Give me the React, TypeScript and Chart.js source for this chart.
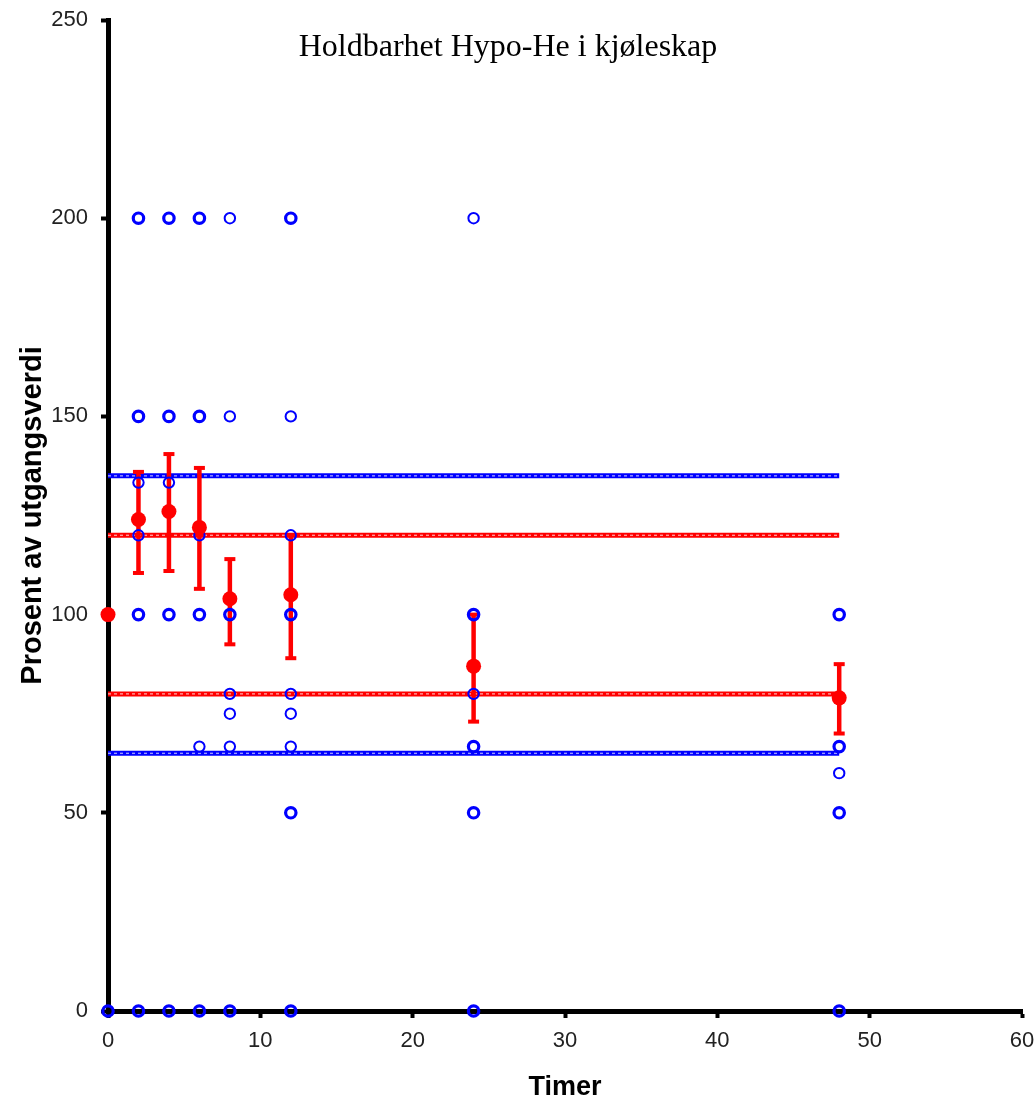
import React, { useEffect, useRef } from 'react';
import { Chart, registerables } from 'chart.js';

Chart.register(...registerables);

// Sampling times (hours)
const timeHours = [0, 2, 4, 6, 8, 12, 24, 48];

// Individual observations (% of baseline) at each time; repeated values = overlapping samples
const obsAt0 = [100, 100, 0, 0];
const obsAt2 = [200, 200, 150, 150, 133.3, 120, 100, 100, 0, 0];
const obsAt4 = [200, 200, 150, 150, 133.3, 100, 100, 0, 0];
const obsAt6 = [200, 200, 150, 150, 120, 100, 100, 66.7, 0, 0];
const obsAt8 = [200, 150, 100, 100, 80, 75, 66.7, 0, 0];
const obsAt12 = [200, 200, 150, 120, 100, 100, 80, 75, 66.7, 50, 50, 0, 0];
const obsAt24 = [200, 100, 100, 80, 66.7, 66.7, 50, 50, 0, 0];
const obsAt48 = [100, 100, 66.7, 66.7, 60, 50, 50, 0, 0];
const observations = [obsAt0, obsAt2, obsAt4, obsAt6, obsAt8, obsAt12, obsAt24, obsAt48];

// Mean and error range
const meanPercent = [100, 124, 126, 122, 104, 105, 87, 79];
const errorLow = [null, 110.5, 111, 106.5, 92.5, 89, 73, 70];
const errorHigh = [null, 136, 140.5, 137, 114, 120, 100, 87.5];

// Limit lines
const limitStart = 0;
const limitEnd = 48;
const blueLimits = [135, 65];
const redLimits = [120, 80];

// Tick labels
const xTickValues = [0, 10, 20, 30, 40, 50, 60];
const yTickValues = [0, 50, 100, 150, 200, 250];

const titleText = 'Holdbarhet Hypo-He i kjøleskap';
const xTitle = 'Timer';
const yTitle = 'Prosent av utgangsverdi';

const BLUE = '#0000ff';
const RED = '#ff0000';
const SANS = "'Liberation Sans', Arial, sans-serif";
const SERIF = "'Liberation Serif', 'Times New Roman', serif";

export default function App() {
  const canvasRef = useRef<HTMLCanvasElement | null>(null);

  useEffect(() => {
    document.body.style.margin = '0';
    const canvas = canvasRef.current;
    if (!canvas) return;

    const obsPoints: { x: number; y: number; n: number }[] = [];
    observations.forEach((vals, i) => {
      const seen: Record<string, boolean> = {};
      vals.forEach((v) => {
        const key = String(v);
        if (seen[key]) return;
        seen[key] = true;
        const n = vals.filter((w) => w === v).length;
        obsPoints.push({ x: timeHours[i], y: v, n });
      });
    });

    const meanPoints = timeHours.map((t, i) => ({ x: t, y: meanPercent[i] }));

    const limitDatasets: any[] = [];
    const addLimit = (v: number, color: string, label: string) => {
      const data = [
        { x: limitStart, y: v },
        { x: limitEnd, y: v },
      ];
      limitDatasets.push({
        type: 'line',
        label,
        data,
        borderColor: color,
        borderWidth: 5,
        pointRadius: 0,
        showLine: true,
        clip: false,
        order: 6,
      });
      limitDatasets.push({
        type: 'line',
        label: label + '-dots',
        data,
        borderColor: 'rgba(255,255,255,0.6)',
        borderWidth: 1.4,
        borderDash: [3, 3],
        pointRadius: 0,
        showLine: true,
        clip: false,
        order: 5,
      });
    };
    blueLimits.forEach((v, i) => addLimit(v, BLUE, 'blue' + i));
    redLimits.forEach((v, i) => addLimit(v, RED, 'red' + i));

    const errorBarPlugin = {
      id: 'errorBars',
      beforeDatasetDraw(chart: any, args: any) {
        if (chart.data.datasets[args.index].label !== 'Målinger') return;
        const ctx = chart.ctx;
        const xs = chart.scales.x;
        const ys = chart.scales.y;
        ctx.save();
        ctx.strokeStyle = RED;
        ctx.fillStyle = RED;
        ctx.lineWidth = 4.5;
        timeHours.forEach((t, i) => {
          const lo = errorLow[i];
          const hi = errorHigh[i];
          if (lo == null || hi == null) return;
          const px = xs.getPixelForValue(t);
          const pLo = ys.getPixelForValue(lo);
          const pHi = ys.getPixelForValue(hi);
          ctx.beginPath();
          ctx.moveTo(px, pLo);
          ctx.lineTo(px, pHi);
          ctx.stroke();
          ctx.fillRect(px - 5.5, pHi - 2, 11, 4);
          ctx.fillRect(px - 5.5, pLo - 2, 11, 4);
        });
        ctx.restore();
      },
    };

    const titlePlugin = {
      id: 'topTitle',
      afterDraw(chart: any) {
        const ctx = chart.ctx;
        ctx.save();
        ctx.fillStyle = '#000';
        ctx.font = `32px ${SERIF}`;
        ctx.textAlign = 'center';
        ctx.textBaseline = 'alphabetic';
        ctx.fillText(titleText, 508, 56);
        ctx.restore();
      },
    };

    const noScalePadding = (s: any) => {
      s.paddingTop = 0;
      s.paddingBottom = 0;
      s.paddingLeft = 0;
      s.paddingRight = 0;
    };

    const chart = new Chart(canvas, {
      type: 'scatter',
      data: {
        datasets: [
          {
            label: 'Gjennomsnitt',
            data: meanPoints,
            pointRadius: 7.5,
            pointBackgroundColor: RED,
            pointBorderColor: RED,
            pointBorderWidth: 0,
            showLine: false,
            clip: false,
            order: 0,
          },
          {
            label: 'Målinger',
            data: obsPoints,
            pointRadius: 5.2,
            pointBackgroundColor: 'rgba(0,0,0,0)',
            pointBorderColor: BLUE,
            pointBorderWidth: (c: any) => (c.raw && c.raw.n > 1 ? 3.2 : 2),
            showLine: false,
            clip: false,
            order: 1,
          },
          ...limitDatasets,
        ] as any,
      },
      options: {
        animation: false,
        responsive: false,
        maintainAspectRatio: false,
        events: [],
        layout: { padding: { top: 20, right: 13, left: 0, bottom: 0 } },
        plugins: {
          legend: { display: false },
          tooltip: { enabled: false },
          title: { display: false },
        },
        scales: {
          x: {
            type: 'linear',
            min: 0,
            max: 60,
            afterFit: (s: any) => {
              s.height = 90;
              noScalePadding(s);
            },
            afterBuildTicks: (s: any) => {
              s.ticks = xTickValues.map((v) => ({ value: v }));
            },
            grid: {
              display: true,
              drawOnChartArea: false,
              drawTicks: true,
              tickLength: 7,
              tickWidth: 4,
              tickColor: '#000',
            },
            border: { display: true, color: '#000', width: 5 },
            ticks: {
              color: '#222',
              font: { family: SANS, size: 22 },
              padding: 10,
              maxRotation: 0,
              autoSkip: false,
            },
            title: {
              display: true,
              text: xTitle,
              color: '#000',
              font: { family: SANS, size: 27, weight: 'bold', lineHeight: 1 },
              padding: { top: 0, bottom: 0 },
            },
          },
          y: {
            type: 'linear',
            min: 0,
            max: 250,
            afterFit: (s: any) => {
              s.width = 108;
              noScalePadding(s);
            },
            afterBuildTicks: (s: any) => {
              s.ticks = yTickValues.map((v) => ({ value: v }));
            },
            grid: {
              display: true,
              drawOnChartArea: false,
              drawTicks: true,
              tickLength: 7,
              tickWidth: 4,
              tickColor: '#000',
            },
            border: { display: true, color: '#000', width: 5 },
            ticks: {
              color: '#222',
              font: { family: SANS, size: 22 },
              padding: 13,
              autoSkip: false,
            },
            title: {
              display: true,
              text: yTitle,
              color: '#000',
              font: { family: SANS, size: 29, weight: 'bold', lineHeight: 1 },
              padding: { top: 18, bottom: 0 },
            },
          },
        },
      } as any,
      plugins: [errorBarPlugin, titlePlugin],
    });

    return () => {
      chart.destroy();
    };
  }, []);

  return (
    <div style={{ width: 1035, height: 1101 }}>
      <canvas ref={canvasRef} width={1035} height={1101} style={{ display: 'block', width: 1035, height: 1101 }} />
    </div>
  );
}
